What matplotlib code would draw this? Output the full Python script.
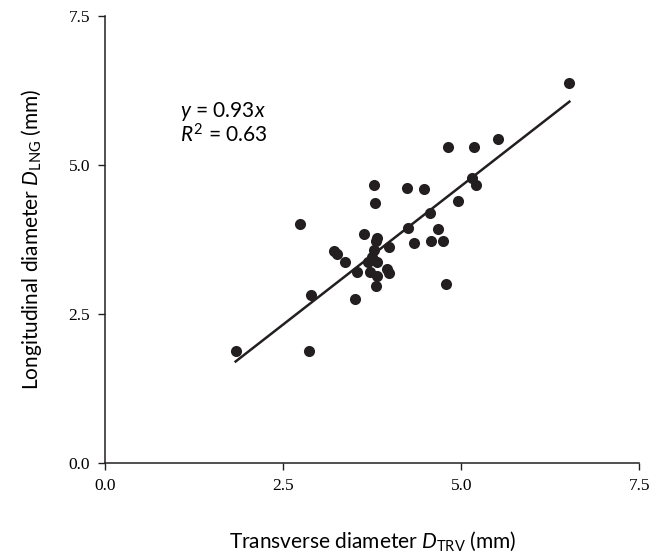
import matplotlib
matplotlib.use("Agg")
import matplotlib.pyplot as plt
import numpy as np

# transverse (x) and longitudinal (y) diameters, mm
d_trv = [1.83, 2.86, 2.89, 2.74, 3.21, 3.25, 3.37, 3.51, 3.54, 3.64,
         3.77, 3.79, 3.82, 3.80, 3.77, 3.74, 3.69, 3.81, 3.72, 3.81,
         3.80, 3.95, 3.99, 3.98, 4.24, 4.48, 4.25, 4.33, 4.56, 4.58,
         4.67, 4.74, 4.95, 4.81, 5.18, 5.51, 5.15, 5.21, 6.52, 4.78]
d_lng = [1.88, 1.88, 2.81, 4.01, 3.55, 3.51, 3.38, 2.75, 3.21, 3.84,
         4.66, 4.37, 3.78, 3.73, 3.57, 3.45, 3.38, 3.38, 3.21, 3.14,
         2.97, 3.25, 3.18, 3.62, 4.62, 4.60, 3.94, 3.69, 4.20, 3.73,
         3.92, 3.73, 4.40, 5.30, 5.30, 5.43, 4.78, 4.66, 6.37, 3.00]
SLOPE = 0.93
R2 = 0.63
TICKS = [0.0, 2.5, 5.0, 7.5]

plt.rcParams["mathtext.fontset"] = "custom"
plt.rcParams["mathtext.rm"] = "Lato"
plt.rcParams["mathtext.it"] = "Lato:italic"

fig = plt.figure(figsize=(6.63, 5.55), dpi=100)
ax = fig.add_axes([0.159, 0.166, 0.805, 0.805])

x = np.array(d_trv)
y = np.array(d_lng)
ax.scatter(x, y, s=64, color="#231f20", zorder=3, linewidths=0)
xl = np.array([x.min(), x.max()])
ax.plot(xl, SLOPE * xl, color="#231f20", lw=1.8, zorder=2)

ax.set_xlim(0, 7.5)
ax.set_ylim(0, 7.5)
ax.set_xticks(TICKS)
ax.set_yticks(TICKS)
ax.set_xticklabels([f"{t:.1f}" for t in TICKS], family="Liberation Serif", fontsize=12.5)
ax.set_yticklabels([f"{t:.1f}" for t in TICKS], family="Liberation Serif", fontsize=12.5)
ax.tick_params(length=5, width=1, color="#231f20", pad=6)
for s in ["top", "right"]:
    ax.spines[s].set_visible(False)
for s in ["left", "bottom"]:
    ax.spines[s].set_linewidth(1.1)
    ax.spines[s].set_color("#231f20")

ax.set_xlabel(r"Transverse diameter $D_{\mathrm{TRV}}$ (mm)", family="Lato",
              fontsize=15)
ax.set_ylabel(r"Longitudinal diameter $D_{\mathrm{LNG}}$ (mm)", family="Lato",
              fontsize=15)
ax.xaxis.set_label_coords(0.5, -0.148)
ax.yaxis.set_label_coords(-0.115, 0.5)

ax.text(0.14, 0.787, r"$y$ = %.2f$x$" % SLOPE, transform=ax.transAxes,
        family="Lato", fontsize=15, va="center")
ax.text(0.14, 0.733, r"$R^2$ = %.2f" % R2, transform=ax.transAxes,
        family="Lato", fontsize=15, va="center")

fig.savefig("out.png", dpi=100)
